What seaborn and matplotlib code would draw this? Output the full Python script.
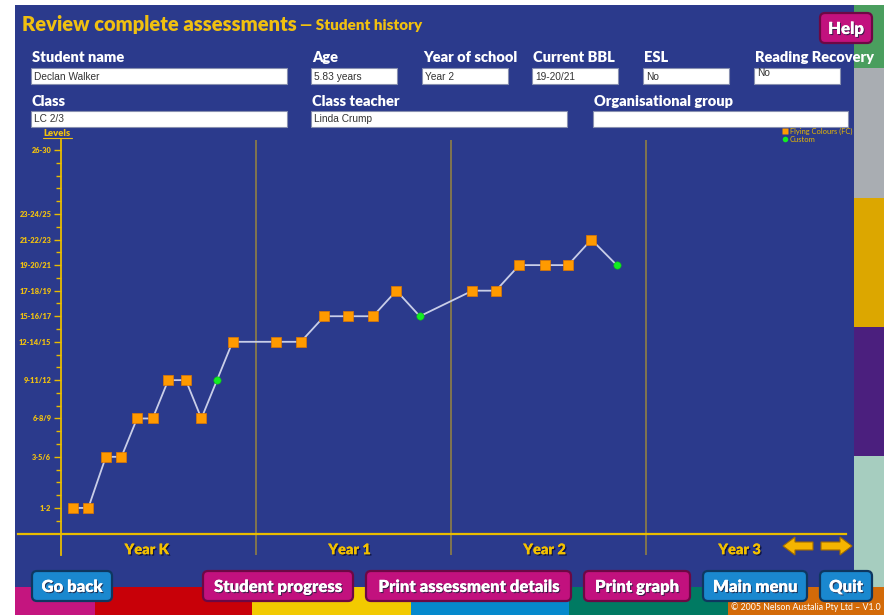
import matplotlib
matplotlib.use("Agg")
import matplotlib.pyplot as plt
import matplotlib.patheffects as pe
from matplotlib.patches import Rectangle, FancyBboxPatch, Polygon
from matplotlib.lines import Line2D
import seaborn as sns
import pandas as pd

W, H = 894, 615

# assessments: position along the school years (Year K starts at 0), level, kind
when = [0.06, 0.14, 0.23, 0.31, 0.39, 0.47, 0.55, 0.64, 0.72, 0.80, 0.88,
        1.10, 1.23, 1.35, 1.47, 1.60, 1.72, 1.84,
        2.11, 2.23, 2.35, 2.48, 2.60, 2.72, 2.85]
level = [2, 2, 6, 6, 9, 9, 12, 12, 9, 12, 15,
         15, 15, 17, 17, 17, 19, 17,
         19, 19, 21, 21, 21, 23, 21]
kind = ["FC"] * 9 + ["Custom"] + ["FC"] * 7 + ["Custom"] + ["FC"] * 6 + ["Custom"]

level_ticks = [2, 6, 9, 12, 15, 17, 19, 21, 23, 25, 30]
level_labels = ["1-2", "3-5/6", "6-8/9", "9-11/12", "12-14/15", "15-16/17",
                "17-18/19", "19-20/21", "21-22/23", "23-24/25", "26-30"]
years = ["Year K", "Year 1", "Year 2", "Year 3"]
year_pos = [0.44, 1.48, 2.48, 3.48]

row1_labels = ["Student name", "Age", "Year of school", "Current BBL", "ESL", "Reading Recovery"]
row1_values = ["Declan Walker", "5.83 years", "Year 2", "19-20/21", "No", "No"]
row2_labels = ["Class", "Class teacher", "Organisational group"]
row2_values = ["LC 2/3", "Linda Crump", ""]

buttons = ["Go back", "Student progress", "Print assessment details", "Print graph", "Main menu", "Quit"]

df = pd.DataFrame({"when": when, "level": level, "kind": kind})

BLUE = "#2b3a8c"
GOLD = "#f0c010"
sns.set_theme(style="white")
plt.rcParams["font.family"] = ["Lato", "DejaVu Sans"]

fig = plt.figure(figsize=(W / 100, H / 100), dpi=100, facecolor="white")

# overlay in pixel coordinates for the screen furniture
ov = fig.add_axes([0, 0, 1, 1])
ov.set_xlim(0, W)
ov.set_ylim(H, 0)
ov.axis("off")

ov.add_patch(Rectangle((15, 5), 839, 582, color=BLUE, lw=0))
strip = [(5, 68, "#4a9e5e"), (68, 198, "#a9adb2"), (198, 327, "#dca700"),
         (327, 456, "#4b1f7e"), (456, 587, "#a6cdbf")]
for y0, y1, c in strip:
    ov.add_patch(Rectangle((854, y0), 30, y1 - y0, color=c, lw=0))
bands = [(15, 95, "#c4157f"), (95, 252, "#c80008"), (252, 411, "#f2ca00"),
         (411, 569, "#0589cc"), (569, 728, "#007a62"), (728, 884, "#d36a08")]
for x0, x1, c in bands:
    ov.add_patch(Rectangle((x0, 587), x1 - x0, 28, color=c, lw=0))

ov.text(22, 25, "Review complete assessments", color=GOLD, fontsize=14.5,
        fontweight="heavy", va="center")
ov.text(300, 26, "\u2014 Student history", color=GOLD, fontsize=11,
        fontweight="heavy", va="center")


def field(x, y, w, label, value, value_top=False):
    ov.text(x + 1, y - 10, label, color="white", fontsize=10.5, fontweight="heavy", va="center")
    ov.add_patch(Rectangle((x, y), w, 16, facecolor="white", edgecolor="#8890b0", lw=0.8))
    ov.text(x + 3, y + (5 if value_top else 8.5), value, color="#333333", fontsize=7.3,
            family="Liberation Sans", va="center")


r1 = [(31, 256), (311, 86), (422, 86), (532, 86), (643, 86), (754, 86)]
for (x, w), lab, val in zip(r1, row1_labels, row1_values):
    field(x, 68, w, lab, val, value_top=(lab == "Reading Recovery"))
r2 = [(31, 256), (311, 256), (593, 255)]
for (x, w), lab, val in zip(r2, row2_labels, row2_values):
    field(x, 111, w, lab, val)

ov.text(43, 133, "Levels", color=GOLD, fontsize=6.8, fontweight="heavy", va="center")
ov.plot([43, 72], [138, 138], color=GOLD, lw=0.8)


def button(x0, x1, y0, y1, label, face, edge):
    r = 5
    ov.add_patch(FancyBboxPatch((x0 + r, y0 + r), x1 - x0 - 2 * r, y1 - y0 - 2 * r,
                                boxstyle=f"round,pad={r}", facecolor=face,
                                edgecolor=edge, lw=1.6))
    ov.text((x0 + x1) / 2, (y0 + y1) / 2 + 1, label, color="white", fontsize=12,
            fontweight="heavy", ha="center", va="center",
            path_effects=[pe.withSimplePatchShadow(offset=(0.8, -0.8), shadow_rgbFace="#202040",
                                                   alpha=0.8), pe.Normal()])


MAG, MAG_E = "#c2117e", "#6c0844"
BTN, BTN_E = "#1a88cf", "#0e3760"
button(820, 872, 13, 43, "Help", MAG, MAG_E)
spots = [(32, 112, BTN, BTN_E), (203, 353, MAG, MAG_E), (366, 571, MAG, MAG_E),
         (584, 690, MAG, MAG_E), (703, 807, BTN, BTN_E), (820, 872, BTN, BTN_E)]
for (x0, x1, f, e), lab in zip(spots, buttons):
    button(x0, x1, 571, 601, lab, f, e)

arrow_l = [(783, 546), (795, 537), (795, 542), (813, 542), (813, 550), (795, 550), (795, 555)]
arrow_r = [(852, 546), (840, 537), (840, 542), (821, 542), (821, 550), (840, 550), (840, 555)]
for pts in (arrow_l, arrow_r):
    ov.add_patch(Polygon(pts, closed=True, facecolor="#f5b400", edgecolor="#a06a00", lw=0.8))

ov.text(806, 607, "\u00a9 2005 Nelson Austalia Pty Ltd \u2013 V1.0", color="white",
        fontsize=6.3, ha="center", va="center")

# chart axes: x=0 at pixel 61 (195 px per year), level 0 at pixel 533.5
ax = fig.add_axes([18 / W, 1 - 555 / H, (846 - 18) / W, (555 - 140) / H])
ax.set_facecolor("none")
ax.set_xlim(-43 / 195, 785 / 195)
ax.set_ylim(-21.5 / 12.78, 393.5 / 12.78)

for x in (1, 2, 3):
    ax.axvline(x, color="#8f7f45", lw=1.2, zorder=1)

sns.lineplot(data=df, x="when", y="level", sort=False, color="#c9cee8", lw=1.3,
             ax=ax, zorder=2)
fc = df[df["kind"] == "FC"]
cu = df[df["kind"] == "Custom"]
sns.scatterplot(data=fc, x="when", y="level", marker="s", s=42, color="#ff9a00",
                edgecolor="#e07800", linewidth=0.5, ax=ax, zorder=3)
sns.scatterplot(data=cu, x="when", y="level", marker="o", s=28, color="#12ee22",
                edgecolor="#0cb818", linewidth=0.4, ax=ax, zorder=3)

for side in ("top", "right"):
    ax.spines[side].set_visible(False)
ax.spines["left"].set_position(("data", 0))
ax.spines["bottom"].set_position(("data", 0))
ax.spines["left"].set_color("#e8bc00")
ax.spines["left"].set_linewidth(1.3)
ax.spines["bottom"].set_color("#e8bc00")
ax.spines["bottom"].set_linewidth(1.6)

ax.set_yticks(level_ticks)
ax.set_yticklabels(level_labels)
ax.set_yticks([v for v in range(1, 30) if v not in level_ticks], minor=True)
ax.tick_params(axis="y", which="major", direction="out", length=5, width=1,
               color="#e8bc00", labelcolor=GOLD, labelsize=5.3, pad=2, left=True)
ax.tick_params(axis="y", which="minor", direction="out", length=3.5, width=1,
               color="#e8bc00", left=True)
for t in ax.get_yticklabels():
    t.set_fontweight("heavy")

ax.set_xticks(year_pos)
ax.set_xticklabels(years)
ax.tick_params(axis="x", length=0, pad=7, labelsize=10.5, labelcolor="#f2c000")
for t in ax.get_xticklabels():
    t.set_fontweight("heavy")
    t.set_path_effects([pe.withSimplePatchShadow(offset=(1, -1), shadow_rgbFace="#0a1040",
                                                 alpha=0.9), pe.Normal()])
ax.set_xlabel("")
ax.set_ylabel("")

handles = [Line2D([], [], marker="s", color="none", markerfacecolor="#ff9a00",
                  markeredgecolor="none", markersize=4, label="Flying Colours (FC)"),
           Line2D([], [], marker="o", color="none", markerfacecolor="#12ee22",
                  markeredgecolor="none", markersize=4, label="Custom")]
ax.legend(handles=handles, loc="upper right", bbox_to_anchor=(852 / W, 1 - 128 / H),
          bbox_transform=fig.transFigure, frameon=False, fontsize=5.4,
          labelcolor="#e8b800", handlelength=0.5, handletextpad=0.3,
          labelspacing=0.05, borderpad=0, borderaxespad=0)

fig.savefig("out.png", dpi=100, facecolor="white")
